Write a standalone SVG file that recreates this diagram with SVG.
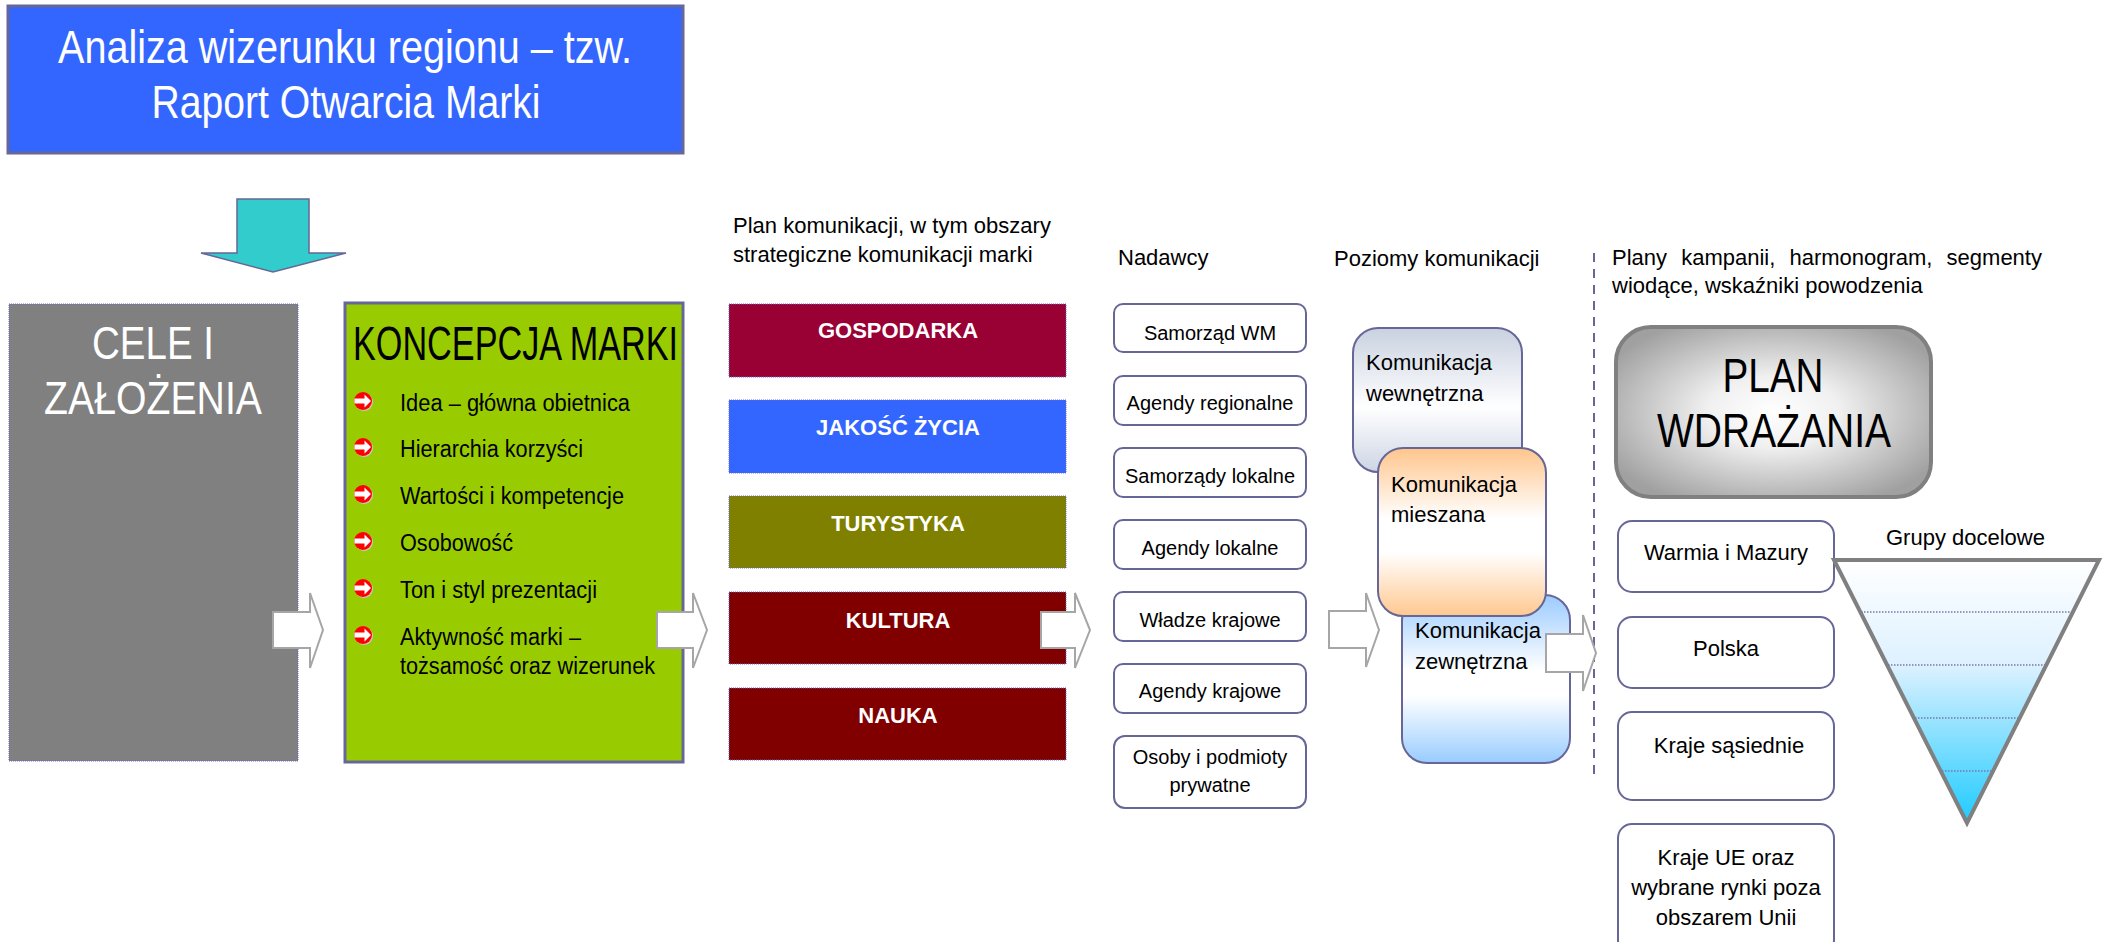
<svg xmlns="http://www.w3.org/2000/svg" width="2107" height="942" viewBox="0 0 2107 942">
<style>
text{font-family:"Liberation Sans",Arial,sans-serif;fill:#000}
.w{fill:#fff}
.mid{text-anchor:middle}
.h22{font-size:22px}
.cat{font-size:22px;font-weight:bold;fill:#fff;text-anchor:middle}
.catbox{stroke:#6666CC;stroke-width:1;stroke-dasharray:1 1}
.nb{fill:#fff;stroke:#666699;stroke-width:2}
.nt{font-size:20px;text-anchor:middle}
.item{font-size:23px}
.kom{stroke:#666699;stroke-width:2}
.ha{fill:#fff;stroke:#A6A6A6;stroke-width:2}
.dot{stroke:#7777AA;stroke-width:1.5;stroke-dasharray:1.5 1.5}
</style>
<defs>
<g id="bul"><circle cx="1" cy="1" r="9" fill="#C8C8C8"/><circle r="9" fill="#FF0000"/><path d="M-8.6,-2.5H1.5V-6.5L8,0L1.5,6.5V2.5H-8.6Z" fill="#fff"/></g>
<linearGradient id="gWew" x1="0" y1="0" x2="0" y2="1"><stop offset="0" stop-color="#C9D1E0"/><stop offset="0.55" stop-color="#FFFFFF"/><stop offset="1" stop-color="#CDD5E4"/></linearGradient>
<linearGradient id="gMie" x1="0" y1="0" x2="0" y2="1"><stop offset="0" stop-color="#FFC58C"/><stop offset="0.42" stop-color="#FFFFFF"/><stop offset="0.62" stop-color="#FFFFFF"/><stop offset="1" stop-color="#FFC890"/></linearGradient>
<linearGradient id="gZew" x1="0" y1="0" x2="0" y2="1"><stop offset="0" stop-color="#9CCBFF"/><stop offset="0.45" stop-color="#FFFFFF"/><stop offset="0.6" stop-color="#FFFFFF"/><stop offset="1" stop-color="#99CCFF"/></linearGradient>
<radialGradient id="gPlan" cx="0.5" cy="0.5" r="0.6"><stop offset="0" stop-color="#FFFFFF"/><stop offset="0.35" stop-color="#F0F0F0"/><stop offset="1" stop-color="#A0A0A0"/></radialGradient>
<linearGradient id="gFun" x1="0" y1="0" x2="0" y2="1"><stop offset="0" stop-color="#FFFFFF"/><stop offset="0.4" stop-color="#DDF1FF"/><stop offset="1" stop-color="#1ECBFF"/></linearGradient>
</defs>

<g id="analiza">
<rect x="8" y="6" width="675" height="147" fill="#3366FF" stroke="#666699" stroke-width="3"/>
<text class="w mid" x="345" y="63" font-size="46" textLength="574" lengthAdjust="spacingAndGlyphs">Analiza wizerunku regionu – tzw.</text>
<text class="w mid" x="346" y="118" font-size="46" textLength="389" lengthAdjust="spacingAndGlyphs">Raport Otwarcia Marki</text>
</g>

<g id="cele">
<rect x="9" y="304" width="289" height="457" fill="#808080" class="catbox"/>
<text class="w mid" x="153" y="359" font-size="46" textLength="122" lengthAdjust="spacingAndGlyphs">CELE I</text>
<text class="w mid" x="153" y="414" font-size="46" textLength="218" lengthAdjust="spacingAndGlyphs">ZAŁOŻENIA</text>
</g>

<g id="koncepcja">
<rect x="345" y="303" width="338" height="459" fill="#99CC00" stroke="#666699" stroke-width="3"/>
<text x="353" y="360" font-size="48" textLength="325" lengthAdjust="spacingAndGlyphs">KONCEPCJA MARKI</text>
<use href="#bul" x="363" y="401"/>
<text class="item" x="400" y="411" textLength="230" lengthAdjust="spacingAndGlyphs">Idea – główna obietnica</text>
<use href="#bul" x="363" y="447"/>
<text class="item" x="400" y="457" textLength="183" lengthAdjust="spacingAndGlyphs">Hierarchia korzyści</text>
<use href="#bul" x="363" y="494"/>
<text class="item" x="400" y="504" textLength="224" lengthAdjust="spacingAndGlyphs">Wartości i kompetencje</text>
<use href="#bul" x="363" y="541"/>
<text class="item" x="400" y="551" textLength="113" lengthAdjust="spacingAndGlyphs">Osobowość</text>
<use href="#bul" x="363" y="588"/>
<text class="item" x="400" y="598" textLength="197" lengthAdjust="spacingAndGlyphs">Ton i styl prezentacji</text>
<use href="#bul" x="363" y="635"/>
<text class="item" x="400" y="645" textLength="181" lengthAdjust="spacingAndGlyphs">Aktywność marki –</text>
<text class="item" x="400" y="674" textLength="255" lengthAdjust="spacingAndGlyphs">tożsamość oraz wizerunek</text>
</g>

<g id="plan-komunikacji">
<text class="h22" x="733" y="233">Plan komunikacji, w tym obszary</text>
<text class="h22" x="733" y="262">strategiczne komunikacji marki</text>
</g>
<g id="gospodarka"><rect x="729" y="304" width="337" height="73" fill="#990033" class="catbox"/><text class="cat" x="898" y="338">GOSPODARKA</text></g>
<g id="jakosc-zycia"><rect x="729" y="400" width="337" height="73" fill="#3366FF" class="catbox"/><text class="cat" x="898" y="435">JAKOŚĆ ŻYCIA</text></g>
<g id="turystyka"><rect x="729" y="496" width="337" height="72" fill="#808000" class="catbox"/><text class="cat" x="898" y="531">TURYSTYKA</text></g>
<g id="kultura"><rect x="729" y="592" width="337" height="72" fill="#800000" class="catbox"/><text class="cat" x="898" y="628">KULTURA</text></g>
<g id="nauka"><rect x="729" y="688" width="337" height="72" fill="#800000" class="catbox"/><text class="cat" x="898" y="723">NAUKA</text></g>

<g id="nadawcy-title"><text class="h22" x="1118" y="265">Nadawcy</text></g>
<g id="n1"><rect class="nb" x="1114" y="304" width="192" height="48" rx="9"/><text class="nt" x="1210" y="340">Samorząd WM</text></g>
<g id="n2"><rect class="nb" x="1114" y="376" width="192" height="49" rx="9"/><text class="nt" x="1210" y="410">Agendy regionalne</text></g>
<g id="n3"><rect class="nb" x="1114" y="448" width="192" height="49" rx="9"/><text class="nt" x="1210" y="483">Samorządy lokalne</text></g>
<g id="n4"><rect class="nb" x="1114" y="520" width="192" height="49" rx="9"/><text class="nt" x="1210" y="555">Agendy lokalne</text></g>
<g id="n5"><rect class="nb" x="1114" y="592" width="192" height="49" rx="9"/><text class="nt" x="1210" y="627">Władze krajowe</text></g>
<g id="n6"><rect class="nb" x="1114" y="664" width="192" height="49" rx="9"/><text class="nt" x="1210" y="698">Agendy krajowe</text></g>
<g id="n7"><rect class="nb" x="1114" y="736" width="192" height="72" rx="11"/><text class="nt" x="1210" y="764">Osoby i podmioty</text><text class="nt" x="1210" y="792">prywatne</text></g>

<g id="poziomy-title"><text class="h22" x="1334" y="266">Poziomy komunikacji</text></g>
<g id="k-wewnetrzna"><rect class="kom" x="1353" y="328" width="169" height="144" rx="25" fill="url(#gWew)"/><text class="h22" x="1366" y="370">Komunikacja</text><text class="h22" x="1366" y="401">wewnętrzna</text></g>
<g id="k-zewnetrzna"><rect class="kom" x="1402" y="595" width="168" height="168" rx="25" fill="url(#gZew)"/><text class="h22" x="1415" y="638">Komunikacja</text><text class="h22" x="1415" y="669">zewnętrzna</text></g>
<g id="k-mieszana"><rect class="kom" x="1378" y="448" width="168" height="168" rx="25" fill="url(#gMie)"/><text class="h22" x="1391" y="492">Komunikacja</text><text class="h22" x="1391" y="522">mieszana</text></g>

<g id="separator"><line x1="1594" y1="253" x2="1594" y2="780" stroke="#666699" stroke-width="2" stroke-dasharray="9 7"/></g>

<g id="plany-title">
<text class="h22" x="1612" y="265" word-spacing="8">Plany kampanii, harmonogram, segmenty</text>
<text class="h22" x="1612" y="293">wiodące, wskaźniki powodzenia</text>
</g>
<g id="plan-wdrazania">
<rect x="1616" y="327" width="315" height="170" rx="35" fill="url(#gPlan)" stroke="#808080" stroke-width="4"/>
<text class="mid" x="1773" y="392" font-size="48" textLength="101" lengthAdjust="spacingAndGlyphs">PLAN</text>
<text class="mid" x="1774" y="447" font-size="48" textLength="234" lengthAdjust="spacingAndGlyphs">WDRAŻANIA</text>
</g>
<g id="r1"><rect class="nb" x="1618" y="521" width="216" height="71" rx="14"/><text class="h22 mid" x="1726" y="560">Warmia i Mazury</text></g>
<g id="r2"><rect class="nb" x="1618" y="617" width="216" height="71" rx="14"/><text class="h22 mid" x="1726" y="656">Polska</text></g>
<g id="r3"><rect class="nb" x="1618" y="712" width="216" height="88" rx="14"/><text class="h22 mid" x="1729" y="753">Kraje sąsiednie</text></g>
<g id="r4"><rect class="nb" x="1618" y="824" width="216" height="130" rx="14"/><text class="h22 mid" x="1726" y="865">Kraje UE oraz</text><text class="h22 mid" x="1726" y="895">wybrane rynki poza</text><text class="h22 mid" x="1726" y="925">obszarem Unii</text></g>

<g id="grupy-docelowe">
<text class="h22" x="1886" y="545">Grupy docelowe</text>
<polygon points="1834,560 2099,560 1967,823" fill="url(#gFun)" stroke="#808080" stroke-width="4" stroke-linejoin="miter"/>
<line class="dot" x1="1861" y1="612" x2="2072" y2="612"/>
<line class="dot" x1="1888" y1="665" x2="2045" y2="665"/>
<line class="dot" x1="1915" y1="718" x2="2019" y2="718"/>
<line class="dot" x1="1942" y1="771" x2="1992" y2="771"/>
</g>

<g id="connectors">
<polygon points="237,199 309,199 309,253 346,253 273,272 201,253 237,253" fill="#33CCCC" stroke="#666699" stroke-width="1.5"/>
<path class="ha" d="M273,612H310V593L323,630L310,668V648H273Z"/>
<path class="ha" d="M657,612H693V593L707,630L693,668V648H657Z"/>
<path class="ha" d="M1041,612H1075V593L1090,630L1075,668V648H1041Z"/>
<path class="ha" d="M1329,611H1366V593L1379,630L1366,667V648H1329Z"/>
<path class="ha" d="M1546,634H1583V615L1596,653L1583,691V672H1546Z"/>
</g>
</svg>
